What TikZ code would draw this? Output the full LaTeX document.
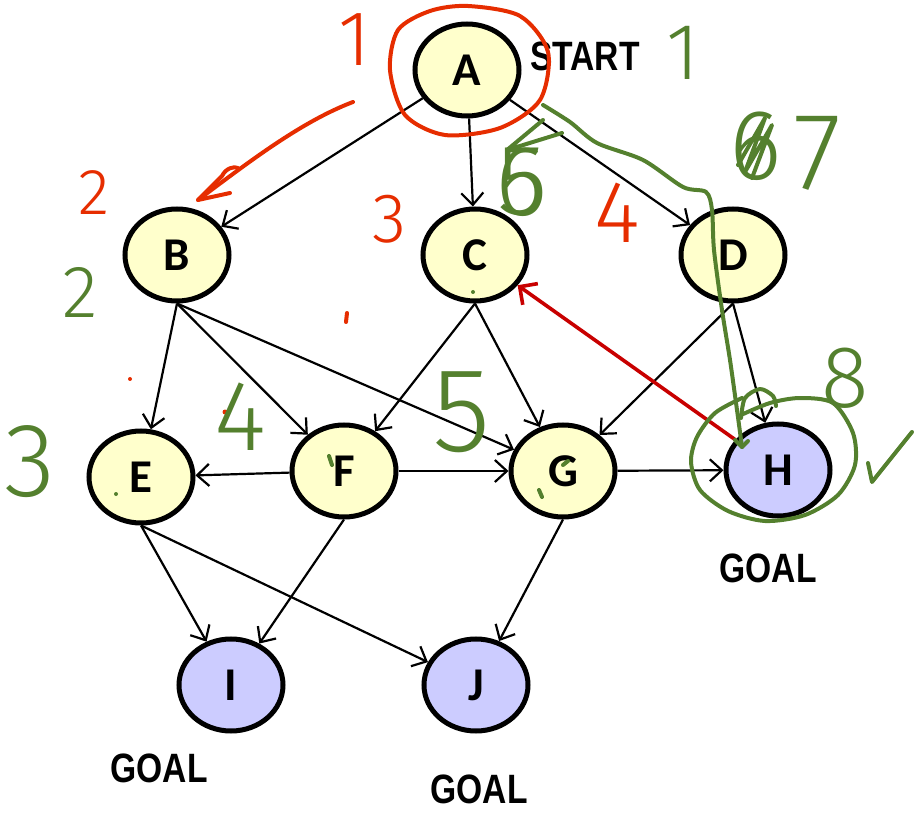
\documentclass[tikz,border=0pt]{standalone}
\usepackage{fontspec}
\usetikzlibrary{arrows.meta,shapes.geometric}
\newfontfamily\nodefont{Carlito}
\newfontfamily\labfont[FakeStretch=0.82]{Liberation Sans}
\newfontfamily\hwfont{Fira Sans Light}
\definecolor{nodey}{RGB}{255,255,204}
\definecolor{nodeb}{RGB}{204,204,255}
\definecolor{annred}{RGB}{230,45,0}
\definecolor{arrred}{RGB}{200,0,0}
\definecolor{anngreen}{RGB}{84,128,46}
\begin{document}
\begin{tikzpicture}[x=1pt,y=-1pt,
 gnode/.style={ellipse, draw=black, line width=5pt, minimum width=104pt, minimum height=92pt, inner sep=0pt, font=\fontsize{47}{47}\selectfont\nodefont\bfseries},
 ynode/.style={gnode, fill=nodey},
 bnode/.style={gnode, fill=nodeb},
 lab/.style={font=\fontsize{41}{41}\selectfont\labfont\bfseries, inner sep=0pt},
 conn/.style={draw, line width=2.2pt, -{Straight Barb[length=12pt,width=22pt]}},
 redarrow/.style={draw=arrred, line width=3.6pt, -{Straight Barb[length=13pt,width=26pt]}},
 hw/.style={font=\fontsize{#1}{#1}\selectfont\hwfont, inner sep=0pt},
 redhw/.style={hw=#1, text=annred},
 greenhw/.style={hw=#1, text=anngreen},
 redstroke/.style={draw=annred, line width=4pt, line cap=round, line join=round},
 greenstroke/.style={draw=anngreen, line width=4pt, line cap=round, line join=round},
]
\useasboundingbox (0,0) rectangle (914,813);

% nodes
\node[ynode] (A) at (467,70) {A};
\node[ynode] (B) at (177,255) {B};
\node[ynode] (C) at (475,255) {C};
\node[ynode] (D) at (733,255) {D};
\node[ynode] (E) at (141,477) {E};
\node[ynode] (F) at (344,471) {F};
\node[ynode] (G) at (563,471) {G};
\node[bnode] (H) at (778,470) {H};
\node[bnode] (I) at (231,685) {I};
\node[bnode] (J) at (476,685) {J};

\node[lab] (start) at (585,56) {START};
\node[lab] (goalH) at (768,568) {GOAL};
\node[lab] (goalI) at (159,768) {GOAL};
\node[lab] (goalJ) at (479,789) {GOAL};

% edges
\draw[conn] (A) -- (B);
\draw[conn] (A) -- (C);
\draw[conn] (A) -- (D);
\draw[conn] (B.south) -- (E);
\draw[conn] (B.south) -- (F);
\draw[conn] (B.south) -- (G);
\draw[conn] (C.south) -- (F);
\draw[conn] (C.south) -- (G);
\draw[conn] (D.south) -- (G);
\draw[conn] (D.south) -- (H);
\draw[conn] (F) -- (E);
\draw[conn] (F) -- (G);
\draw[conn] (G) -- (H);
\draw[conn] (E.south) -- (I);
\draw[conn] (E.south) -- (J);
\draw[conn] (F.south) -- (I);
\draw[conn] (G.south) -- (J);

% red back arrow
\draw[redarrow] (H) -- (C);

% red annotations
\draw[redstroke] plot[smooth cycle] coordinates {(468,6) (520,16) (548,52) (540,100) (500,128) (445,135) (405,115) (390,70) (398,30) (430,11)};
\draw[redstroke] (353,102) .. controls (300,122) and (245,165) .. (198,200);
\draw[redstroke] (230,193) -- (198,200) -- (222,176) .. controls (226,168) and (234,166) .. (238,168);
\node[redhw=78] (r1) at (355,40) {1};
\node[redhw=65] (r2) at (94,193) {2};
\node[redhw=70] (r3) at (390,219) {3};
\node[redhw=88] (r4) at (617,213) {4};
\draw[redstroke] (347,313) -- (346,322);
\fill[annred] (130,379) circle (2pt);
\fill[annred] (225,412) circle (2.5pt);

% green annotations
\draw[greenstroke] plot[smooth] coordinates {(543,105) (570,122) (597,143) (643,160) (683,187) (706,192) (712,210) (714,250) (722,310) (730,360) (737,410) (742,447)};
\draw[greenstroke] (735,440) -- (742,447) -- (748,441);
\draw[greenstroke] (543,120) -- (507,150) -- (562,133);
\draw[greenstroke] plot[smooth] coordinates {(741,418) (745,398) (760,389) (773,396) (776,406)};
\draw[greenstroke] plot[smooth] coordinates {(741,415) (770,403) (800,398) (833,403) (853,433) (855,465) (838,495) (805,515) (765,521) (728,511) (700,490) (691,462) (697,437) (715,413) (742,398)};
\draw[greenstroke] (868,463) -- (872,482) -- (912,432);
\node[greenhw=80] (g1) at (683,53) {1};
\node[greenhw=74] (g2) at (80,292) {2};
\node[greenhw=105] (g3) at (30,462) {3};
\node[greenhw=100] (g4) at (240,417) {4};
\node[greenhw=120] (g5) at (462,412) {5};
\node[greenhw=100] (g6a) at (522,182) {6};
\node[greenhw=100] (g6b) at (522,182) {5};
\node[greenhw=100] (g6c) at (756,146) {6};
\draw[greenstroke] (738,165) -- (765,118) -- (745,172) -- (772,125) -- (752,178);
\node[greenhw=110] (g7) at (818,153) {7};
\node[greenhw=88] (g8) at (845,378) {8};
\fill[anngreen] (473,292) circle (2pt);
\fill[anngreen] (116,494) circle (2pt);
\draw[greenstroke] (329,456) -- (332,465);
\draw[greenstroke] (563,465) -- (568,461);
\draw[greenstroke] (539,490) -- (542,497);
\end{tikzpicture}
\end{document}
